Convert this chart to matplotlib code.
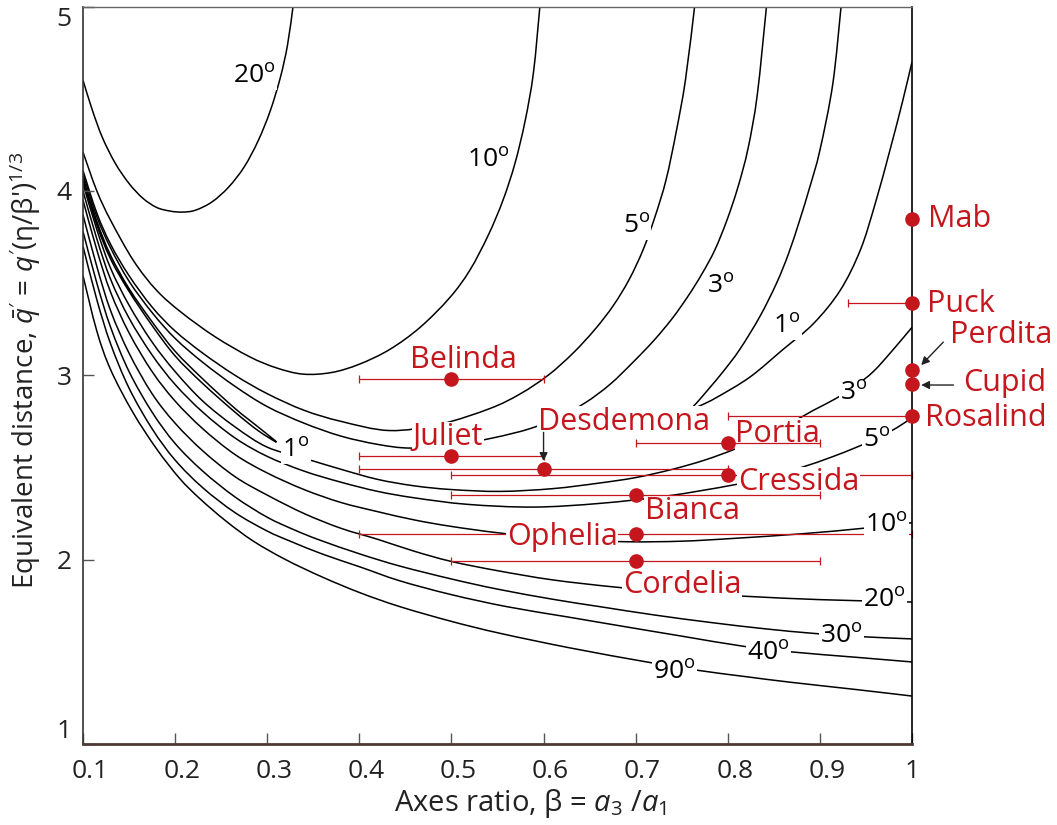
import numpy as np
import matplotlib.pyplot as plt
from matplotlib.path import Path
from matplotlib.patches import PathPatch
from matplotlib.transforms import ScaledTranslation

plt.rcParams['font.family'] = ['Open Sans', 'DejaVu Sans']
plt.rcParams['mathtext.fontset'] = 'custom'
plt.rcParams['mathtext.rm'] = 'Open Sans'
plt.rcParams['mathtext.it'] = 'Open Sans:italic'

red = '#c4161c'

# Contour lines of the tilt angle, traced as (beta, q) points
c20u_x = [0.100, 0.110, 0.121, 0.135, 0.150, 0.165, 0.180, 0.195, 0.208, 0.222, 0.240, 0.258, 0.275, 0.290, 0.303, 0.314, 0.322, 0.328]
c20u_y = [4.60, 4.44, 4.29, 4.15, 4.04, 3.96, 3.91, 3.89, 3.885, 3.895, 3.94, 4.02, 4.13, 4.27, 4.43, 4.61, 4.79, 5.00]

c10u_x = [0.100, 0.115, 0.130, 0.155, 0.180, 0.207, 0.243, 0.281, 0.310, 0.339, 0.370, 0.400, 0.433, 0.466, 0.498, 0.520, 0.540, 0.556, 0.569, 0.580, 0.589, 0.596]
c10u_y = [4.21, 4.00, 3.84, 3.62, 3.46, 3.34, 3.21, 3.10, 3.04, 3.006, 3.015, 3.06, 3.14, 3.26, 3.42, 3.57, 3.76, 3.95, 4.15, 4.38, 4.64, 5.00]

c5u_x = [0.100, 0.115, 0.130, 0.150, 0.175, 0.200, 0.230, 0.265, 0.300, 0.340, 0.380, 0.433, 0.488, 0.542, 0.575, 0.605, 0.632, 0.656, 0.676, 0.693, 0.708, 0.721, 0.733, 0.744, 0.754, 0.764]
c5u_y = [4.11, 3.88, 3.71, 3.54, 3.37, 3.24, 3.12, 3.00, 2.90, 2.81, 2.75, 2.70, 2.735, 2.82, 2.90, 3.00, 3.12, 3.25, 3.38, 3.52, 3.68, 3.86, 4.06, 4.32, 4.60, 5.00]

c3u_x = [0.100, 0.115, 0.130, 0.150, 0.175, 0.200, 0.230, 0.265, 0.300, 0.340, 0.380, 0.420, 0.455, 0.500, 0.545, 0.585, 0.615, 0.645, 0.672, 0.697, 0.720, 0.740, 0.757, 0.772, 0.786, 0.799, 0.811, 0.822, 0.832, 0.842]
c3u_y = [4.09, 3.86, 3.69, 3.51, 3.34, 3.20, 3.07, 2.94, 2.83, 2.74, 2.67, 2.625, 2.605, 2.62, 2.66, 2.71, 2.77, 2.85, 2.95, 3.07, 3.19, 3.31, 3.43, 3.55, 3.68, 3.84, 4.02, 4.23, 4.52, 5.00]

c1l_x = [0.100, 0.115, 0.130, 0.150, 0.175, 0.200, 0.230, 0.265, 0.290, 0.310, 0.290, 0.265, 0.230, 0.200, 0.175, 0.150, 0.130, 0.115, 0.100]
c1l_y = [4.07, 3.835, 3.65, 3.47, 3.29, 3.13, 2.98, 2.82, 2.72, 2.638, 2.70, 2.80, 2.955, 3.105, 3.27, 3.455, 3.63, 3.815, 4.06]

c1r_x = [0.923, 0.914, 0.900, 0.889, 0.878, 0.866, 0.853, 0.835, 0.813, 0.795, 0.780, 0.768, 0.761, 0.770, 0.788, 0.824, 0.860, 0.893, 0.922, 0.944, 0.960, 0.976, 0.990, 1.000]
c1r_y = [5.00, 4.58, 4.22, 4.02, 3.84, 3.66, 3.50, 3.32, 3.14, 3.02, 2.93, 2.86, 2.82, 2.835, 2.88, 2.99, 3.14, 3.28, 3.46, 3.68, 3.93, 4.22, 4.49, 4.70]

c3l_x = [0.100, 0.115, 0.130, 0.150, 0.175, 0.200, 0.230, 0.265, 0.300, 0.340, 0.380, 0.420, 0.460, 0.500, 0.553, 0.610, 0.660, 0.700, 0.740, 0.775, 0.808, 0.840, 0.868, 0.893, 0.916, 0.938, 0.958, 0.978, 1.000]
c3l_y = [4.04, 3.79, 3.58, 3.38, 3.18, 3.02, 2.86, 2.72, 2.61, 2.55, 2.49, 2.435, 2.40, 2.38, 2.37, 2.385, 2.415, 2.445, 2.49, 2.54, 2.60, 2.67, 2.74, 2.81, 2.87, 2.94, 3.02, 3.13, 3.26]

c5l_x = [0.100, 0.115, 0.130, 0.150, 0.175, 0.200, 0.230, 0.265, 0.300, 0.340, 0.380, 0.420, 0.460, 0.517, 0.589, 0.661, 0.734, 0.806, 0.845, 0.880, 0.912, 0.940, 0.965, 0.985, 1.000]
c5l_y = [4.00, 3.74, 3.52, 3.31, 3.11, 2.95, 2.80, 2.66, 2.56, 2.48, 2.42, 2.37, 2.335, 2.30, 2.285, 2.305, 2.345, 2.405, 2.45, 2.50, 2.555, 2.61, 2.665, 2.72, 2.77]

c10l_x = [0.100, 0.115, 0.130, 0.150, 0.175, 0.200, 0.230, 0.265, 0.300, 0.340, 0.380, 0.420, 0.460, 0.500, 0.553, 0.620, 0.691, 0.750, 0.806, 0.880, 0.947, 1.000]
c10l_y = [3.95, 3.68, 3.45, 3.23, 3.02, 2.86, 2.71, 2.57, 2.47, 2.38, 2.31, 2.26, 2.215, 2.18, 2.144, 2.11, 2.097, 2.10, 2.115, 2.14, 2.17, 2.20]

c20l_x = [0.100, 0.115, 0.130, 0.150, 0.175, 0.200, 0.230, 0.265, 0.300, 0.340, 0.380, 0.420, 0.460, 0.500, 0.550, 0.610, 0.680, 0.750, 0.824, 0.900, 1.000]
c20l_y = [3.87, 3.59, 3.35, 3.12, 2.90, 2.74, 2.59, 2.45, 2.35, 2.25, 2.17, 2.11, 2.045, 1.99, 1.94, 1.89, 1.85, 1.82, 1.80, 1.783, 1.77]

c30_x = [0.100, 0.115, 0.130, 0.150, 0.175, 0.200, 0.230, 0.265, 0.300, 0.330, 0.357, 0.401, 0.444, 0.500, 0.550, 0.610, 0.661, 0.720, 0.780, 0.840, 0.893, 0.941, 1.000]
c30_y = [3.78, 3.50, 3.26, 3.02, 2.80, 2.63, 2.48, 2.34, 2.23, 2.16, 2.106, 2.03, 1.965, 1.895, 1.84, 1.785, 1.745, 1.70, 1.66, 1.625, 1.60, 1.583, 1.57]

c40_x = [0.100, 0.115, 0.130, 0.150, 0.175, 0.200, 0.230, 0.265, 0.300, 0.325, 0.360, 0.401, 0.444, 0.500, 0.560, 0.625, 0.690, 0.750, 0.817, 0.868, 0.940, 1.000]
c40_y = [3.70, 3.41, 3.17, 2.93, 2.71, 2.54, 2.39, 2.255, 2.155, 2.10, 2.03, 1.96, 1.885, 1.81, 1.745, 1.69, 1.635, 1.585, 1.53, 1.50, 1.47, 1.445]

c90_x = [0.100, 0.115, 0.130, 0.154, 0.180, 0.205, 0.227, 0.255, 0.285, 0.320, 0.360, 0.401, 0.444, 0.500, 0.553, 0.630, 0.712, 0.767, 0.820, 0.868, 0.940, 1.000]
c90_y = [3.54, 3.24, 3.03, 2.80, 2.60, 2.44, 2.33, 2.21, 2.10, 2.00, 1.905, 1.82, 1.745, 1.665, 1.60, 1.52, 1.445, 1.40, 1.365, 1.335, 1.295, 1.26]

# Contour labels
clabel_deg = ['20', '10', '5', '3', '1', '1', '3', '5', '10', '20', '30', '40', '90']
clabel_x = [0.263, 0.517, 0.686, 0.777, 0.849, 0.316, 0.922, 0.947, 0.949, 0.947, 0.900, 0.821, 0.719]
clabel_y = [4.585, 4.129, 3.771, 3.446, 3.229, 2.556, 2.866, 2.611, 2.150, 1.743, 1.548, 1.456, 1.352]

# Satellites: axes ratio, equivalent distance and range of beta
moons = ['Mab', 'Puck', 'Perdita', 'Cupid', 'Rosalind', 'Belinda', 'Portia', 'Juliet',
         'Desdemona', 'Cressida', 'Bianca', 'Ophelia', 'Cordelia']
beta = np.array([1.0, 1.0, 1.0, 1.0, 1.0, 0.5, 0.8, 0.5, 0.6, 0.8, 0.7, 0.7, 0.7])
qbar = np.array([3.85, 3.39, 3.03, 2.95, 2.78, 2.98, 2.63, 2.56, 2.49, 2.46, 2.35, 2.14, 1.99])
beta_lo = np.array([1.0, 0.93, 1.0, 1.0, 0.8, 0.4, 0.7, 0.4, 0.4, 0.5, 0.5, 0.4, 0.5])
beta_hi = np.array([1.0, 1.0, 1.0, 1.0, 1.0, 0.6, 0.9, 0.6, 0.8, 1.0, 0.9, 1.0, 0.9])

# Name placement (left edge, baseline)
name_x = [1.017, 1.016, 1.041, 1.055, 1.014, 0.455, 0.808, 0.458, 0.594, 0.811, 0.710, 0.560, 0.686]
name_y = [3.804, 3.343, 3.175, 2.914, 2.725, 3.039, 2.638, 2.621, 2.703, 2.377, 2.220, 2.079, 1.819]
covers_bar = ['Ophelia', 'Cressida']


def smooth_path(xs, ys):
    # Catmull-Rom spline through the traced points, as cubic Bezier segments
    p = np.column_stack([xs, ys])
    ext = np.vstack([p[0], p, p[-1]])
    verts = [p[0]]
    for i in range(len(p) - 1):
        a, b, c, d = ext[i], ext[i + 1], ext[i + 2], ext[i + 3]
        verts += [b + (c - a) / 6, c - (d - b) / 6, c]
    codes = [Path.MOVETO] + [Path.CURVE4] * (3 * (len(p) - 1))
    return Path(verts, codes)


fig = plt.figure(figsize=(10.57, 8.25), dpi=100)
ax = fig.add_axes([83 / 1057, 1 - 744 / 825, 829 / 1057, 737.5 / 825])

curves = [(c20u_x, c20u_y), (c10u_x, c10u_y), (c5u_x, c5u_y), (c3u_x, c3u_y),
          (c1l_x, c1l_y), (c1r_x, c1r_y), (c3l_x, c3l_y), (c5l_x, c5l_y),
          (c10l_x, c10l_y), (c20l_x, c20l_y), (c30_x, c30_y), (c40_x, c40_y),
          (c90_x, c90_y)]
for cx, cy in curves:
    ax.add_patch(PathPatch(smooth_path(cx, cy), fill=False, edgecolor='black',
                           lw=1.1, zorder=1))

for t, x, y in zip(clabel_deg, clabel_x, clabel_y):
    ax.text(x, y, t + r'$^{\mathrm{o}}$', fontsize=19, ha='left', va='baseline', zorder=3,
            bbox=dict(facecolor='white', edgecolor='none', pad=1))

# error bars and points
for i, name in enumerate(moons):
    bz = 2 if name in covers_bar else 5
    if beta_hi[i] > beta_lo[i]:
        ax.errorbar(beta[i], qbar[i], xerr=[[beta[i] - beta_lo[i]], [beta_hi[i] - beta[i]]],
                    fmt='none', ecolor=red, elinewidth=0.9, capsize=3, capthick=0.9,
                    zorder=bz, clip_on=False)
    ax.plot(beta[i], qbar[i], 'o', color=red, ms=9.5, zorder=6, clip_on=False)
    ax.text(name_x[i], name_y[i], name, color=red, fontsize=22, ha='left',
            va='baseline', zorder=4,
            bbox=dict(facecolor='white', edgecolor='none', pad=0.5))

arrow = dict(arrowstyle='-|>', color='#222222', lw=1.0, mutation_scale=12, shrinkA=0, shrinkB=0)
ax.annotate('', xy=(0.600, 2.535), xytext=(0.600, 2.690), arrowprops=arrow, zorder=7)
ax.annotate('', xy=(1.010, 3.055), xytext=(1.034, 3.180), arrowprops=arrow,
            annotation_clip=False, zorder=7)
ax.annotate('', xy=(1.010, 2.947), xytext=(1.045, 2.947), arrowprops=arrow,
            annotation_clip=False, zorder=7)

ax.set_xlim(0.1, 1.0)
ax.set_ylim(1, 5)
xticks = [0.1, 0.2, 0.3, 0.4, 0.5, 0.6, 0.7, 0.8, 0.9, 1.0]
ax.set_xticks(xticks)
ax.set_xticklabels(['0.1', '0.2', '0.3', '0.4', '0.5', '0.6', '0.7', '0.8', '0.9', '1'])
ax.set_yticks([1, 2, 3, 4, 5])
ax.set_yticklabels(['1', '2', '3', '4', '5'])
ax.tick_params(direction='in', length=8, width=1, color='#555555', labelsize=19,
               labelcolor='#222222')
ax.tick_params(axis='x', pad=11)
ax.tick_params(axis='y', pad=8)
for lab in ax.get_xticklabels()[:-1]:
    lab.set_transform(lab.get_transform() + ScaledTranslation(5 / 72, 0, fig.dpi_scale_trans))
ylabs = ax.get_yticklabels()
ylabs[0].set_va('bottom')
ylabs[-1].set_va('top')

ax.spines['bottom'].set_color('#4d3936')
ax.spines['bottom'].set_linewidth(2)
ax.spines['left'].set_color('#333333')
ax.spines['left'].set_linewidth(1.2)
ax.spines['right'].set_color('black')
ax.spines['right'].set_linewidth(1.2)
ax.spines['top'].set_color('#666666')
ax.spines['top'].set_linewidth(1)

ax.set_xlabel(r"Axes ratio, β = $\mathit{a_3}$ /$\mathit{a_1}$", fontsize=21, color='#222222')
ax.xaxis.set_label_coords(0.540, -0.058)
ax.set_ylabel(r"Equivalent distance, $\bar{\mathit{q}}'$ = $\mathit{q}'$(η/β'$)^{\mathit{1/3}}$",
              fontsize=20, color='#222222')
ax.yaxis.set_label_coords(-0.048, 0.506)

fig.savefig('out.png', dpi=100)
